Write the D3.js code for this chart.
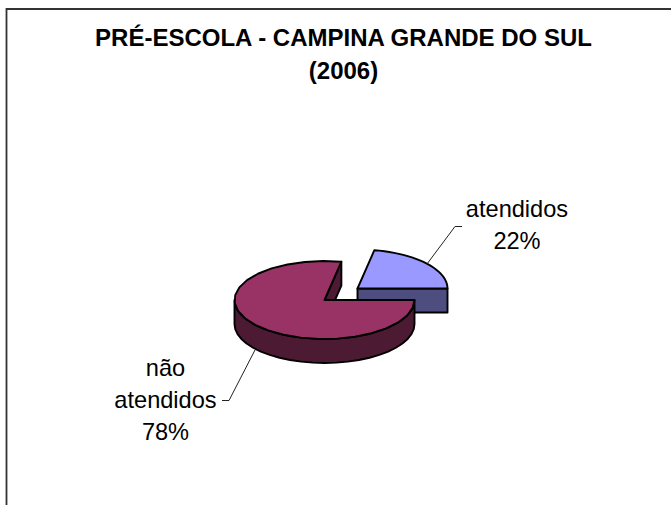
<!DOCTYPE html>
<html>
<head>
<meta charset="utf-8">
<script src="https://cdn.jsdelivr.net/npm/d3@7"></script>
<style>
  html, body { margin: 0; padding: 0; background: #fff; }
  svg { display: block; }
  text { font-family: "Liberation Sans", Arial, sans-serif; fill: #000; }
</style>
</head>
<body>
<svg id="chart" width="671" height="505"></svg>
<script>
// chart data
const categories = ["atendidos", "não atendidos"];
const shares = [22, 78];
const topColors = ["#9999ff", "#993366"];
const sideColors = ["#4d4d80", "#4d1a33"];
const titleLines = ["PRÉ-ESCOLA - CAMPINA GRANDE DO SUL", "(2006)"];

const svg = d3.select("#chart");

// frame runs off the right and bottom of the picture
svg.append("path")
  .attr("d", "M6.5,505V9H671")
  .attr("fill", "none")
  .attr("stroke", "#333")
  .attr("stroke-width", 1.8);

svg.append("g")
  .selectAll("text")
  .data(titleLines)
  .enter().append("text")
    .attr("x", 343.5)
    .attr("y", (d, i) => 46 + i * 32.5)
    .attr("text-anchor", "middle")
    .attr("font-size", 24)
    .attr("font-weight", "bold")
    .text(d => d);

// 3d pie: flattened circle with a wall below it
const rx = 90, ry = 39, depth = 24;
const startAngle = Math.PI / 2 - 2 * Math.PI * shares[0] / 100;

const slices = d3.pie()
  .sort(null)
  .startAngle(startAngle)
  .endAngle(startAngle + 2 * Math.PI)(shares);

const rim = a => [rx * Math.sin(a), -ry * Math.cos(a)];
const samples = (a0, a1) => d3.range(0, 25).map(i => a0 + (a1 - a0) * i / 24);
const line = d3.line();

function face(g, points, color) {
  g.append("path")
    .attr("d", line(points) + "Z")
    .attr("fill", color)
    .attr("stroke", "#000")
    .attr("stroke-width", 1.9)
    .attr("stroke-linejoin", "round");
}

// pulled out slice
const blue = svg.append("g").attr("transform", "translate(357.5,288.5)");
const bs = slices[0];
face(blue, [[0, 0], rim(bs.endAngle), [rim(bs.endAngle)[0], depth], [0, depth]], sideColors[0]);
face(blue, [[0, 0], ...samples(bs.startAngle, bs.endAngle).map(rim)], topColors[0]);

// main slice
const main = svg.append("g").attr("transform", "translate(324.5,300)");
const ms = slices[1];
const cut = rim(ms.endAngle);
face(main, [[0, 0], cut, [cut[0], cut[1] + depth], [0, depth]], sideColors[1]);
const front = samples(Math.PI / 2, 3 * Math.PI / 2).map(rim);
face(main, [...front, ...front.slice().reverse().map(p => [p[0], p[1] + depth])], sideColors[1]);
face(main, [[0, 0], ...samples(ms.startAngle, ms.endAngle).map(rim)], topColors[1]);

// labels with leader lines
const labels = [
  { lines: [categories[0], shares[0] + "%"], x: 517, y: 216.5 },
  { lines: ["não", "atendidos", shares[1] + "%"], x: 165.5, y: 376 }
];

labels.forEach(l => {
  svg.append("g")
    .selectAll("text")
    .data(l.lines)
    .enter().append("text")
      .attr("x", l.x)
      .attr("y", (d, i) => l.y + i * 32)
      .attr("text-anchor", "middle")
      .attr("font-size", 23.6)
      .text(d => d);
});

const leaders = [
  [[462, 226.5], [455, 226.5], [427, 264]],
  [[222, 400.5], [229, 400.5], [255, 350]]
];
svg.append("g")
  .selectAll("path")
  .data(leaders)
  .enter().append("path")
    .attr("d", d => line(d))
    .attr("fill", "none")
    .attr("stroke", "#222")
    .attr("stroke-width", 1);
</script>
</body>
</html>
